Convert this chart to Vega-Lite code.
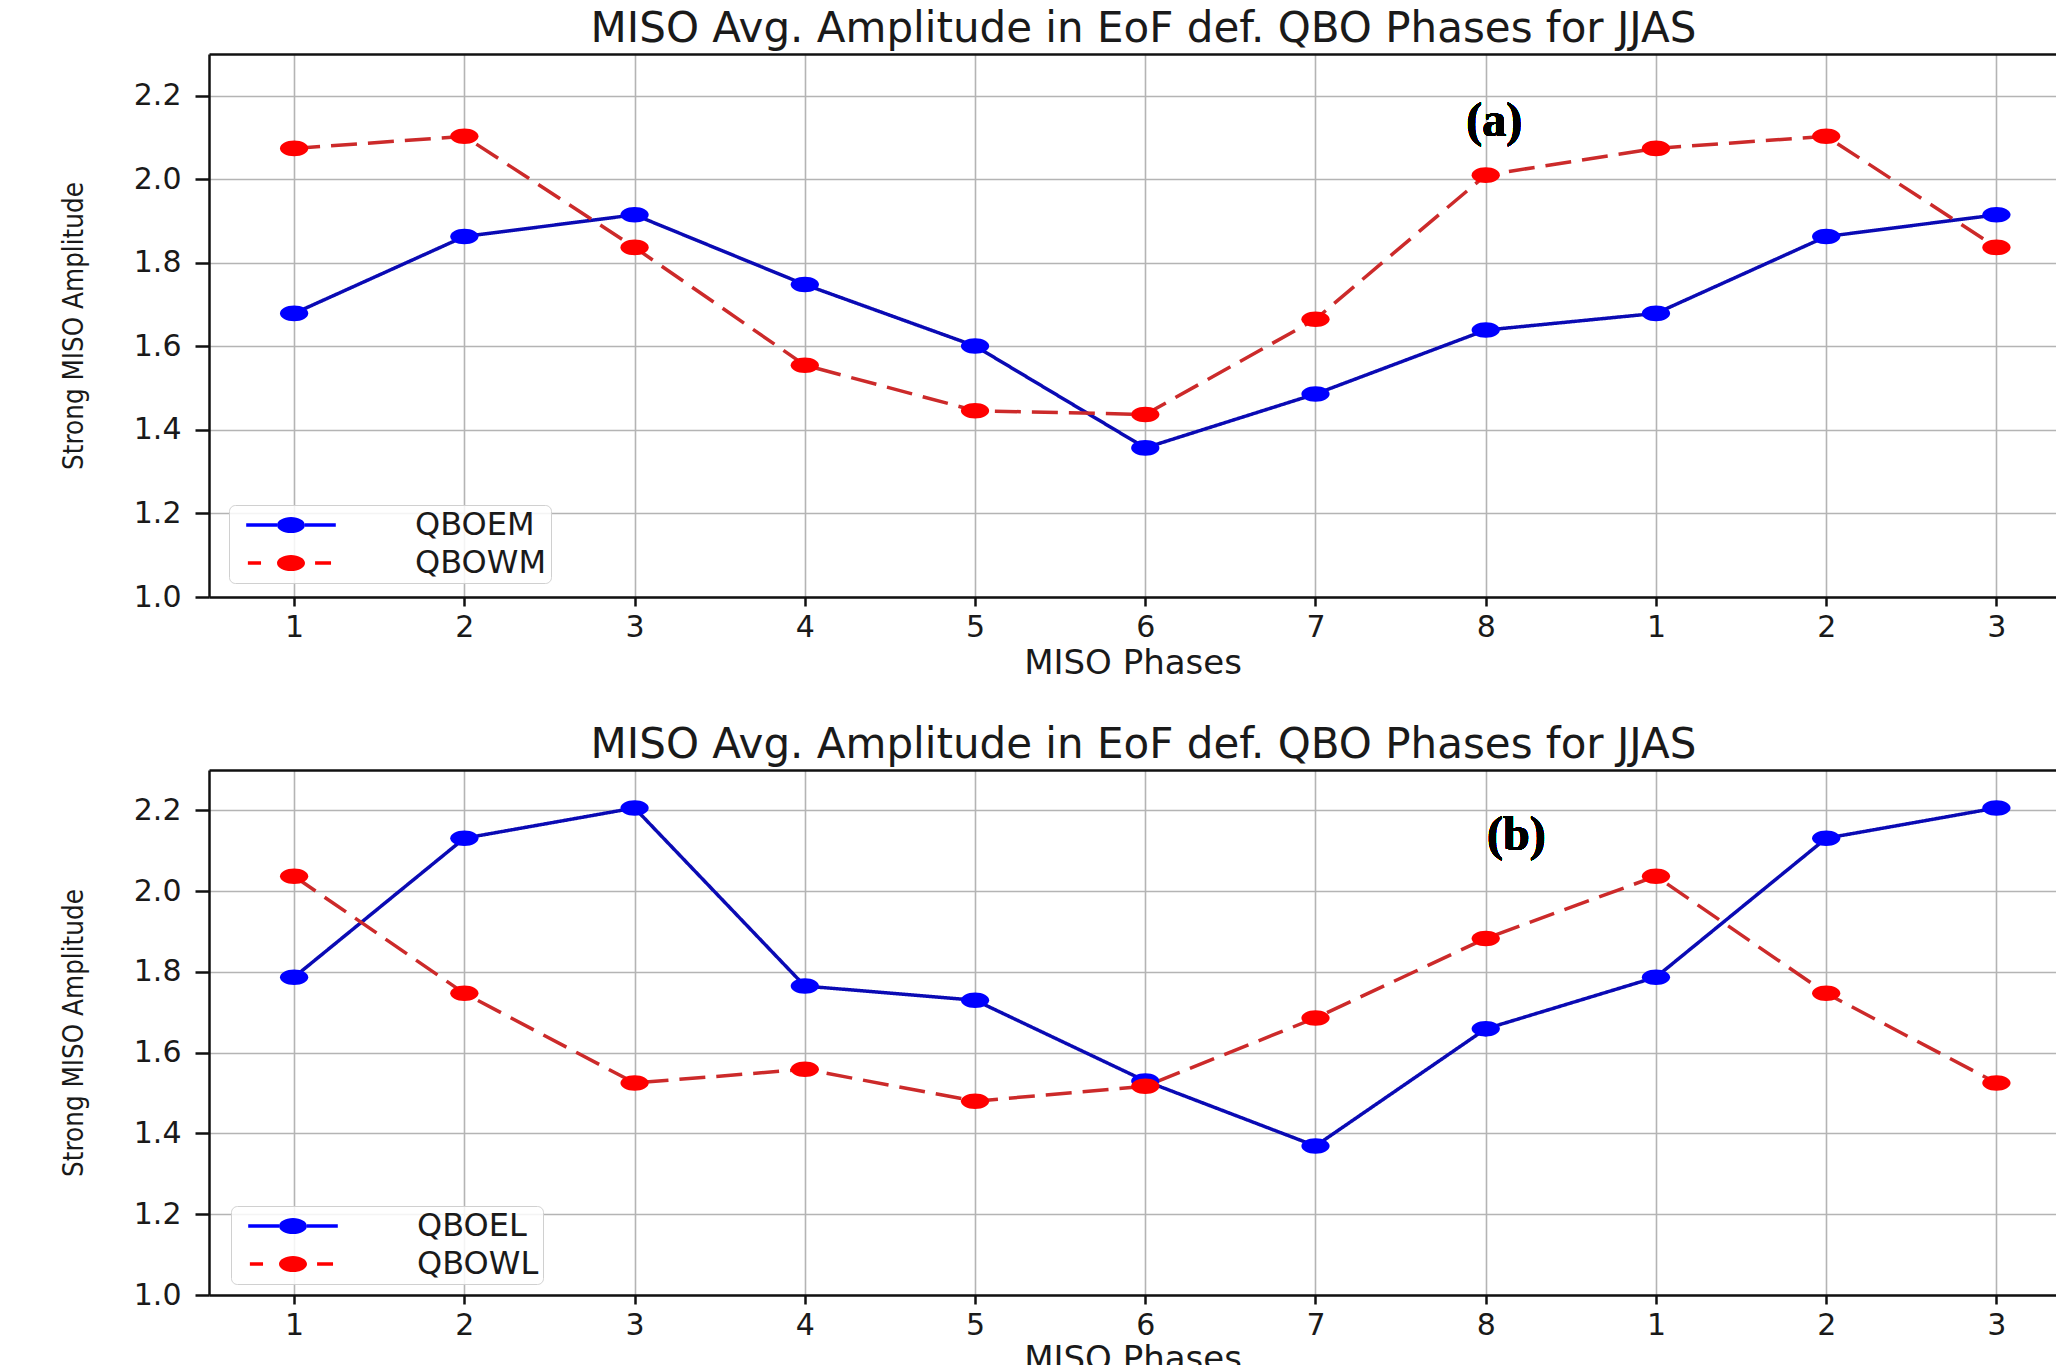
{
  "$schema": "https://vega.github.io/schema/vega-lite/v6.json",
  "padding": {"left": 60, "top": 8, "right": 0, "bottom": 0},
  "background": "white",
  "resolve": {"scale": {"stroke": "independent", "fill": "independent", "strokeDash": "independent"}, "legend": {"stroke": "independent", "fill": "independent", "strokeDash": "independent"}},
  "config": {
    "font": "DejaVu Sans",
    "view": {"stroke": null},
    "concat": {"spacing": 44},
    "axis": {
      "domainColor": "#111111", "domainWidth": 2.5, "tickColor": "#111111", "tickWidth": 2.5,
      "gridColor": "#b4b4b4", "gridWidth": 1.6,
      "labelFont": "DejaVu Sans", "labelFontSize": 30, "labelColor": "#1a1a1a",
      "labelFlush": false, "labelOverlap": false,
      "titleFont": "DejaVu Sans", "titleFontWeight": "normal", "titleColor": "#1a1a1a"
    },
    "title": {"font": "DejaVu Sans", "fontSize": 42, "fontWeight": "normal", "color": "#1a1a1a", "offset": 3, "dx": 11},
    "legend": {
      "title": null, "orient": "none",
      "symbolSize": 784, "symbolStrokeWidth": 0, "symbolOffset": 42, "labelOffset": 108,
      "labelFontSize": 32, "labelFont": "DejaVu Sans", "labelColor": "#1a1a1a", "labelLimit": 400,
      "padding": 4, "rowPadding": 6,
      "fillColor": "rgba(255,255,255,0.85)", "strokeColor": "#d0d0d0", "cornerRadius": 6
    }
  },
  "datasets": {
    "a": [
      {"idx": 0, "phase": 1, "series": "QBOEM", "value": 1.679},
      {"idx": 1, "phase": 2, "series": "QBOEM", "value": 1.863},
      {"idx": 2, "phase": 3, "series": "QBOEM", "value": 1.915},
      {"idx": 3, "phase": 4, "series": "QBOEM", "value": 1.748},
      {"idx": 4, "phase": 5, "series": "QBOEM", "value": 1.601},
      {"idx": 5, "phase": 6, "series": "QBOEM", "value": 1.357},
      {"idx": 6, "phase": 7, "series": "QBOEM", "value": 1.486},
      {"idx": 7, "phase": 8, "series": "QBOEM", "value": 1.639},
      {"idx": 8, "phase": 1, "series": "QBOEM", "value": 1.679},
      {"idx": 9, "phase": 2, "series": "QBOEM", "value": 1.863},
      {"idx": 10, "phase": 3, "series": "QBOEM", "value": 1.915},
      {"idx": 0, "phase": 1, "series": "QBOWM", "value": 2.074},
      {"idx": 1, "phase": 2, "series": "QBOWM", "value": 2.103},
      {"idx": 2, "phase": 3, "series": "QBOWM", "value": 1.837},
      {"idx": 3, "phase": 4, "series": "QBOWM", "value": 1.555},
      {"idx": 4, "phase": 5, "series": "QBOWM", "value": 1.446},
      {"idx": 5, "phase": 6, "series": "QBOWM", "value": 1.437},
      {"idx": 6, "phase": 7, "series": "QBOWM", "value": 1.665},
      {"idx": 7, "phase": 8, "series": "QBOWM", "value": 2.010},
      {"idx": 8, "phase": 1, "series": "QBOWM", "value": 2.074},
      {"idx": 9, "phase": 2, "series": "QBOWM", "value": 2.103},
      {"idx": 10, "phase": 3, "series": "QBOWM", "value": 1.837}
    ],
    "b": [
      {"idx": 0, "phase": 1, "series": "QBOEL", "value": 1.787},
      {"idx": 1, "phase": 2, "series": "QBOEL", "value": 2.131},
      {"idx": 2, "phase": 3, "series": "QBOEL", "value": 2.206},
      {"idx": 3, "phase": 4, "series": "QBOEL", "value": 1.765},
      {"idx": 4, "phase": 5, "series": "QBOEL", "value": 1.730},
      {"idx": 5, "phase": 6, "series": "QBOEL", "value": 1.530},
      {"idx": 6, "phase": 7, "series": "QBOEL", "value": 1.369},
      {"idx": 7, "phase": 8, "series": "QBOEL", "value": 1.659},
      {"idx": 8, "phase": 1, "series": "QBOEL", "value": 1.787},
      {"idx": 9, "phase": 2, "series": "QBOEL", "value": 2.131},
      {"idx": 10, "phase": 3, "series": "QBOEL", "value": 2.206},
      {"idx": 0, "phase": 1, "series": "QBOWL", "value": 2.037},
      {"idx": 1, "phase": 2, "series": "QBOWL", "value": 1.747},
      {"idx": 2, "phase": 3, "series": "QBOWL", "value": 1.525},
      {"idx": 3, "phase": 4, "series": "QBOWL", "value": 1.559},
      {"idx": 4, "phase": 5, "series": "QBOWL", "value": 1.480},
      {"idx": 5, "phase": 6, "series": "QBOWL", "value": 1.517},
      {"idx": 6, "phase": 7, "series": "QBOWL", "value": 1.686},
      {"idx": 7, "phase": 8, "series": "QBOWL", "value": 1.883},
      {"idx": 8, "phase": 1, "series": "QBOWL", "value": 2.037},
      {"idx": 9, "phase": 2, "series": "QBOWL", "value": 1.747},
      {"idx": 10, "phase": 3, "series": "QBOWL", "value": 1.525}
    ]
  },
  "vconcat": [
    {
      "width": 1847, "height": 543,
      "title": "MISO Avg. Amplitude in EoF def. QBO Phases for JJAS",
      "data": {"name": "a"},
      "resolve": {"axis": {"x": "independent", "y": "independent"}},
      "layer": [
        {
          "mark": {"type": "line", "strokeWidth": 3.5},
          "encoding": {
            "x": {"field": "idx", "type": "quantitative",
                  "scale": {"domain": [-0.5, 10.35], "nice": false, "zero": false},
                  "axis": {"orient": "bottom", "values": [0,1,2,3,4,5,6,7,8,9,10],
                           "labelExpr": "['1','2','3','4','5','6','7','8','1','2','3'][datum.value]",
                           "title": "MISO Phases", "titleFontSize": 34, "tickSize": 9, "labelPadding": 6, "titlePadding": 4, "grid": true}},
            "y": {"field": "value", "type": "quantitative",
                  "scale": {"domain": [1, 2.3], "nice": false, "zero": false},
                  "axis": {"values": [1, 1.2, 1.4, 1.6, 1.8, 2.0, 2.2], "format": ".1f",
                           "title": "Strong MISO Amplitude", "titleFont": "Liberation Sans Narrow, DejaVu Sans Condensed, Liberation Sans",
                           "titleFontSize": 27.5, "tickSize": 14, "labelPadding": 14, "titlePadding": 45, "grid": true}},
            "stroke": {"field": "series", "type": "nominal",
                       "scale": {"domain": ["QBOEM", "QBOWM"], "range": ["#0a0ab4", "#cc2a2a"]},
                       "legend": {"legendX": 20, "legendY": 451,
                                  "encode": {"symbols": {"update": {
                                    "shape": {"signal": "datum.value === 'QBOEM' ? 'M-3.2,-0.12H-1V0.12H-3.2Z M1,-0.12H3.2V0.12H1Z M-1,0A1,0.58 0 1,0 1,0A1,0.58 0 1,0 -1,0Z' : 'M-3.08,-0.12H-2.14V0.12H-3.08Z M1.72,-0.12H2.86V0.12H1.72Z M-1,0A1,0.58 0 1,0 1,0A1,0.58 0 1,0 -1,0Z'"},
                                    "fill": {"signal": "datum.value === 'QBOEM' ? '#0000ff' : '#ff0000'"},
                                    "stroke": {"value": "transparent"}, "strokeWidth": {"value": 0},
                                    "opacity": {"value": 1}, "size": {"value": 784}}}}}},
            "strokeDash": {"field": "series", "type": "nominal",
                           "scale": {"domain": ["QBOEM", "QBOWM"], "range": [[1, 0], [26, 11]]}, "legend": null}
          }
        },
        {
          "mark": {"type": "point", "filled": true, "shape": "M-1,0A1,0.55 0 1,0 1,0A1,0.55 0 1,0 -1,0Z", "size": 800, "opacity": 1},
          "encoding": {
            "x": {"field": "idx", "type": "quantitative",
                  "scale": {"domain": [-0.5, 10.35], "nice": false, "zero": false},
                  "axis": {"orient": "top", "labels": false, "ticks": false, "grid": false, "title": null, "domain": true}},
            "y": {"field": "value", "type": "quantitative", "scale": {"domain": [1, 2.3], "nice": false, "zero": false}, "axis": null},
            "fill": {"field": "series", "type": "nominal",
                     "scale": {"domain": ["QBOEM", "QBOWM"], "range": ["#0000ff", "#ff0000"]}, "legend": null}
          }
        },
        {
          "mark": {"type": "text", "font": "Liberation Serif", "fontWeight": "bold", "fontSize": 48, "color": "#000000", "baseline": "middle", "align": "center", "text": "(a)"},
          "encoding": {
            "x": {"datum": 7.05, "type": "quantitative", "scale": {"domain": [-0.5, 10.35], "nice": false, "zero": false}, "axis": null},
            "y": {"datum": 2.137, "type": "quantitative", "scale": {"domain": [1, 2.3], "nice": false, "zero": false}, "axis": null}
          }
        }
      ]
    },
    {
      "width": 1847, "height": 525,
      "title": "MISO Avg. Amplitude in EoF def. QBO Phases for JJAS",
      "data": {"name": "b"},
      "resolve": {"axis": {"x": "independent", "y": "independent"}},
      "layer": [
        {
          "mark": {"type": "line", "strokeWidth": 3.5},
          "encoding": {
            "x": {"field": "idx", "type": "quantitative",
                  "scale": {"domain": [-0.5, 10.35], "nice": false, "zero": false},
                  "axis": {"orient": "bottom", "values": [0,1,2,3,4,5,6,7,8,9,10],
                           "labelExpr": "['1','2','3','4','5','6','7','8','1','2','3'][datum.value]",
                           "title": "MISO Phases", "titleFontSize": 34, "tickSize": 9, "labelPadding": 6, "titlePadding": 2, "grid": true}},
            "y": {"field": "value", "type": "quantitative",
                  "scale": {"domain": [1, 2.3], "nice": false, "zero": false},
                  "axis": {"values": [1, 1.2, 1.4, 1.6, 1.8, 2.0, 2.2], "format": ".1f",
                           "title": "Strong MISO Amplitude", "titleFont": "Liberation Sans Narrow, DejaVu Sans Condensed, Liberation Sans",
                           "titleFontSize": 27.5, "tickSize": 14, "labelPadding": 14, "titlePadding": 45, "grid": true}},
            "stroke": {"field": "series", "type": "nominal",
                       "scale": {"domain": ["QBOEL", "QBOWL"], "range": ["#0a0ab4", "#cc2a2a"]},
                       "legend": {"legendX": 22, "legendY": 436,
                                  "encode": {"symbols": {"update": {
                                    "shape": {"signal": "datum.value === 'QBOEL' ? 'M-3.2,-0.12H-1V0.12H-3.2Z M1,-0.12H3.2V0.12H1Z M-1,0A1,0.58 0 1,0 1,0A1,0.58 0 1,0 -1,0Z' : 'M-3.08,-0.12H-2.14V0.12H-3.08Z M1.72,-0.12H2.86V0.12H1.72Z M-1,0A1,0.58 0 1,0 1,0A1,0.58 0 1,0 -1,0Z'"},
                                    "fill": {"signal": "datum.value === 'QBOEL' ? '#0000ff' : '#ff0000'"},
                                    "stroke": {"value": "transparent"}, "strokeWidth": {"value": 0},
                                    "opacity": {"value": 1}, "size": {"value": 784}}}}}},
            "strokeDash": {"field": "series", "type": "nominal",
                           "scale": {"domain": ["QBOEL", "QBOWL"], "range": [[1, 0], [26, 11]]}, "legend": null}
          }
        },
        {
          "mark": {"type": "point", "filled": true, "shape": "M-1,0A1,0.55 0 1,0 1,0A1,0.55 0 1,0 -1,0Z", "size": 800, "opacity": 1},
          "encoding": {
            "x": {"field": "idx", "type": "quantitative",
                  "scale": {"domain": [-0.5, 10.35], "nice": false, "zero": false},
                  "axis": {"orient": "top", "labels": false, "ticks": false, "grid": false, "title": null, "domain": true}},
            "y": {"field": "value", "type": "quantitative", "scale": {"domain": [1, 2.3], "nice": false, "zero": false}, "axis": null},
            "fill": {"field": "series", "type": "nominal",
                     "scale": {"domain": ["QBOEL", "QBOWL"], "range": ["#0000ff", "#ff0000"]}, "legend": null}
          }
        },
        {
          "mark": {"type": "text", "font": "Liberation Serif", "fontWeight": "bold", "fontSize": 48, "color": "#000000", "baseline": "middle", "align": "center", "text": "(b)"},
          "encoding": {
            "x": {"datum": 7.18, "type": "quantitative", "scale": {"domain": [-0.5, 10.35], "nice": false, "zero": false}, "axis": null},
            "y": {"datum": 2.137, "type": "quantitative", "scale": {"domain": [1, 2.3], "nice": false, "zero": false}, "axis": null}
          }
        }
      ]
    }
  ]
}
